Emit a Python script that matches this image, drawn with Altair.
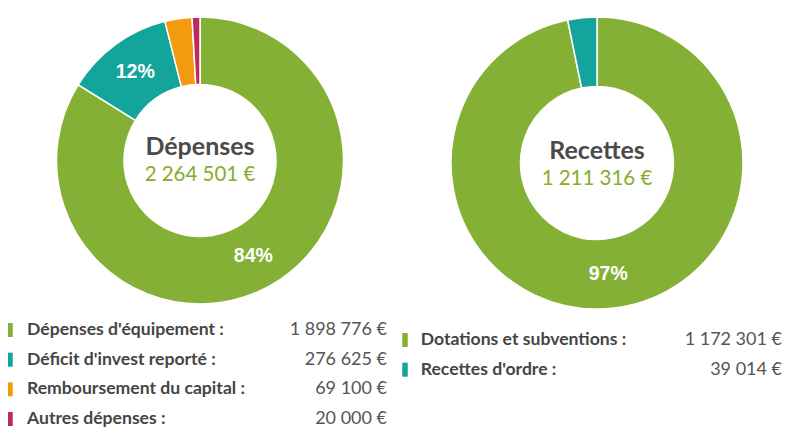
import math
import altair as alt
import pandas as pd

# ---- data ----
dep_labels = ["Dépenses d'équipement :", "Déficit d'invest reporté :",
              "Remboursement du capital :", "Autres dépenses :"]
dep_values = [1898776, 276625, 69100, 20000]
rec_labels = ["Dotations et subventions :", "Recettes d'ordre :"]
rec_values = [1172301, 39014]
titles = ["Dépenses", "Recettes"]
totals = [2264501, 1211316]

GREEN, TEAL, ORANGE, CRIMSON = "#84b135", "#13a59c", "#f39a10", "#bf2a5c"
dep_colors = [GREEN, TEAL, ORANGE, CRIMSON]
rec_colors = [GREEN, TEAL]


def fmt_total(v):
    return f"{v:,}".replace(",", "\u202f") + "\u00a0€"


def fmt(v):
    return f"{v:,}".replace(",", " ") + " €"


def slices(labels, values, colors):
    total = sum(values)
    rows, cum = [], 0
    for i, (l, v, c) in enumerate(zip(labels, values, colors)):
        start = cum / total
        cum += v
        end = cum / total
        frac = v / total
        rows.append(dict(row=i, label=l, amount=fmt(v), color=c,
                         start=start, end=end, mid=(start + end) / 2,
                         pct=f"{round(frac * 100)}%" if frac > 0.05 else ""))
    return pd.DataFrame(rows)


dep = slices(dep_labels, dep_values, dep_colors)
rec = slices(rec_labels, rec_values, rec_colors)

theta_scale = alt.Scale(domain=[0, 1], range=[0, 2 * math.pi])
y_scale = alt.Scale(domain=[0, 3], range=[322, 411])

LABEL_FONT = "Lato"


def donut(df, title, total, cx, cy, R, r, ty, vy):
    base = alt.Chart(df)
    arc = base.mark_arc(radius=R, radius2=r, stroke="white", strokeWidth=1.5).encode(
        theta=alt.Theta("start:Q", scale=theta_scale, stack=False),
        theta2="end:Q",
        color=alt.Color("color:N", scale=None),
        x=alt.value(cx), y=alt.value(cy),
    )
    pct = base.transform_filter("datum.pct != ''").mark_text(
        radius=(R + r) / 2, font="Liberation Sans", fontWeight="bold",
        fontSize=19.5, color="white", baseline="middle", align="center",
    ).encode(
        theta=alt.Theta("mid:Q", scale=theta_scale, stack=False),
        text="pct:N", x=alt.value(cx), y=alt.value(cy),
    )
    tdf = pd.DataFrame({"title": [title], "total": [fmt_total(total)]})
    t1 = alt.Chart(tdf).mark_text(font=LABEL_FONT, fontWeight="bold", fontSize=25,
                                  color="#4a4a4a", align="center").encode(
        text="title:N", x=alt.value(cx), y=alt.value(ty))
    t2 = alt.Chart(tdf).mark_text(font=LABEL_FONT, fontSize=20.5,
                                  color="#86ad2d", align="center").encode(
        text="total:N", x=alt.value(cx), y=alt.value(vy))
    return [arc, pct, t1, t2]


def legend(df, xbar, xlab, xval, dy):
    base = alt.Chart(df)
    y = alt.Y("row:Q", scale=y_scale, axis=None)
    bar = base.mark_tick(orient="vertical", size=14, thickness=5.5, opacity=1,
                         yOffset=dy).encode(
        x=alt.value(xbar), y=y, color=alt.Color("color:N", scale=None))
    lab = base.mark_text(font=LABEL_FONT, fontWeight="bold", fontSize=17.6,
                         color="#454545", align="left", baseline="middle", dy=dy).encode(
        x=alt.value(xlab), y=y, text="label:N")
    val = base.mark_text(font=LABEL_FONT, fontSize=18, color="#555555",
                         align="right", baseline="middle", dy=dy).encode(
        x=alt.value(xval), y=y, text="amount:N")
    return [bar, lab, val]


layers = []
layers += donut(dep, titles[0], totals[0], 192, 152.5, 143.5, 76, 139, 167)
layers += donut(rec, titles[1], totals[1], 589, 155, 146, 76.5, 143, 171)
layers += legend(dep, 2, 19, 379, 0)
layers += legend(rec, 397, 412.7, 774, 10)

chart = alt.layer(*layers).properties(
    width=779, height=419, padding=0,
    autosize=alt.AutoSizeParams(type="none"),
    background="white",
).configure_view(stroke=None)

chart.save("out.html", embed_options={"renderer": "svg", "actions": False})
